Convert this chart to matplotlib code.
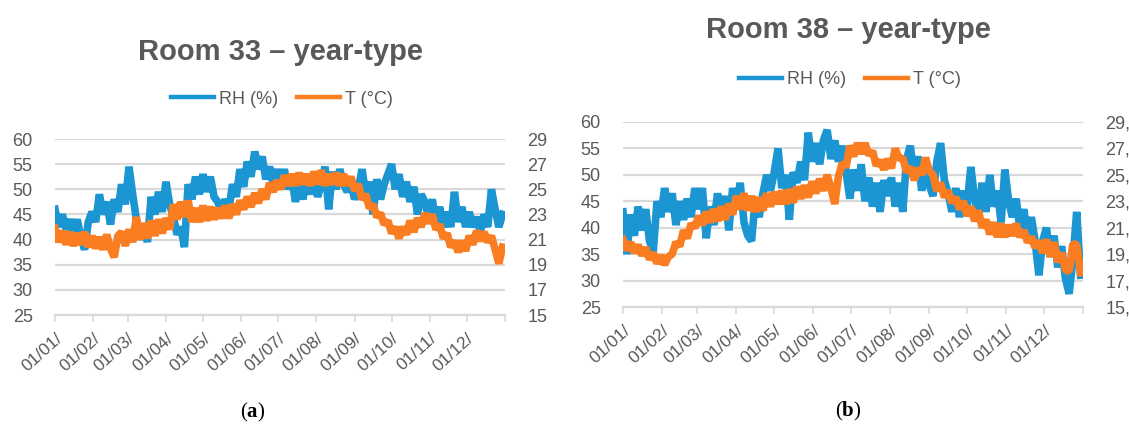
import numpy as np
import matplotlib.pyplot as plt
from matplotlib.lines import Line2D

plt.rcParams['font.family'] = ['Liberation Sans', 'DejaVu Sans']
plt.rcParams['mathtext.fontset'] = 'custom'
plt.rcParams['mathtext.rm'] = 'Liberation Serif'
plt.rcParams['mathtext.bf'] = 'Liberation Serif:bold'

# day of year, one reading every 3 days (values swing between the
# day/night edges of the band seen in the chart)
days = np.arange(0, 366, 3)

month_starts = [0, 31, 59, 90, 120, 151, 181, 212, 243, 273, 304, 334, 365]
month_labels = ['01/01/', '01/02/', '01/03/', '01/04/', '01/05/', '01/06/',
                '01/07/', '01/08/', '01/09/', '01/10/', '01/11/', '01/12/', '']

rh_ticks = [25, 30, 35, 40, 45, 50, 55, 60]
t_ticks = [15, 17, 19, 21, 23, 25, 27, 29]

# Room 33
rh_a = [46, 42.5, 45, 42, 44, 41.5, 44, 40.5, 38, 43.5,
        45.5, 43.5, 49, 45, 47.5, 43, 48, 45.5, 51, 47,
        54.5, 49, 44, 40, 43, 39.5, 48.5, 45, 49.5, 45.5,
        51.5, 47, 44.5, 41, 42.5, 38.5, 51, 48, 52.5, 49,
        53, 49.5, 52.5, 48.5, 47.5, 45.5, 48, 46, 51, 48.5,
        54, 50.5, 55.5, 52.5, 57.5, 54, 56.5, 52, 54.5, 51,
        54, 50.5, 54, 50, 52.5, 47.5, 51.5, 48, 52, 49,
        52.5, 48.5, 51, 54.5, 46, 53.5, 50, 54, 51, 49.5,
        51.5, 48, 50, 54, 49, 51.5, 45, 52, 48, 51,
        53, 55, 50, 53, 48.5, 51.5, 47.5, 50.5, 45, 49,
        47.5, 44.5, 48, 43.5, 46.5, 42.5, 45.5, 42.5, 49.5, 43.5,
        46.5, 42.5, 45.5, 42.5, 44.5, 41.5, 45, 42.5, 50, 46, 42.5, 45]
t_a = [21.9, 20.8, 21.7, 20.6, 21.6, 20.5, 21.5, 20.6, 21.6, 20.4,
       21.3, 20.3, 21.2, 20.2, 21.4, 20.3, 19.6, 21.3, 21.6, 20.5,
       21.8, 20.8, 22.8, 21.0, 22.3, 21.1, 22.5, 21.3, 22.6, 21.5,
       22.7, 21.8, 23.8, 22.6, 24.0, 22.8, 24.1, 22.4, 23.5, 22.4,
       23.7, 22.5, 23.6, 22.6, 23.5, 22.7, 23.7, 22.7, 23.8, 23.0,
       24.1, 23.4, 24.4, 23.6, 24.7, 23.9, 25.0, 24.2, 25.5, 24.8,
       25.7, 25.0, 26.1, 25.3, 26.2, 25.3, 26.3, 25.4, 26.2, 25.3,
       26.4, 25.4, 26.5, 25.3, 26.2, 25.4, 26.3, 25.3, 26.2, 25.3,
       26.0, 24.9, 25.4, 24.2, 24.6, 23.5, 23.8, 22.8, 23.1, 22.2,
       22.5, 21.5, 22.0, 21.1, 22.0, 21.4, 22.5, 21.6, 22.7, 22.0,
       23.1, 22.3, 23.0, 21.8, 22.2, 21.1, 21.5, 20.4, 20.9, 20.0,
       20.9, 20.1, 21.3, 20.6, 21.7, 20.9, 21.6, 20.8, 21.3, 20.2, 19.1, 20.4]

# Room 38
rh_b = [43, 35, 42.5, 38.5, 44, 39.5, 43.5, 37.5, 35.5, 45,
        42, 47.5, 43, 46.5, 40.5, 45, 41.5, 45.5, 42, 47.5,
        43.5, 47.5, 38, 44, 40.5, 46.5, 42, 46, 39.5, 47.5,
        43.5, 48.5, 41, 38.5, 37.5, 45.5, 42, 46.5, 50, 47,
        50.5, 55, 47.5, 50, 41.5, 50.5, 48.5, 52.5, 49, 58,
        52.5, 56, 52, 56.5, 58.5, 53, 56.5, 52.5, 55.5, 50.5,
        45.5, 51, 47, 52, 45, 49.5, 44, 48.5, 43, 49,
        46, 49.5, 44, 48.5, 43, 53, 55.5, 49.5, 53.5, 47,
        51.5, 48, 46, 52.5, 56, 49, 46.5, 43, 47.5, 42,
        47, 44, 51.5, 45.5, 42, 48.5, 43, 50, 44, 47,
        41, 51, 45, 42, 45.5, 39.5, 43.5, 38.5, 42, 37.5,
        31, 37.5, 40, 34.5, 38.5, 32.5, 36.5, 30.5, 27.5, 34, 43, 31]
t_b = [20.1, 19.3, 19.9, 19.1, 19.7, 18.9, 19.5, 18.6, 19.1, 18.3,
       18.9, 18.2, 18.8, 19.0, 19.9, 19.6, 20.8, 20.2, 21.3, 21.0,
       21.9, 21.2, 22.2, 21.4, 22.4, 21.5, 22.6, 21.6, 22.8, 22.0,
       23.4, 22.4, 23.6, 22.3, 23.4, 22.2, 23.3, 22.3, 23.6, 22.6,
       23.7, 22.8, 23.8, 22.8, 23.9, 22.9, 24.1, 23.2, 24.2, 23.3,
       24.5, 23.6, 24.7, 23.8, 25.0, 24.0, 22.8, 24.9, 25.9, 25.6,
       27.2, 26.4, 27.4, 26.6, 27.4, 26.5, 26.8, 25.7, 26.1, 25.4,
       26.2, 25.5, 27.0, 26.2, 26.3, 25.2, 25.6, 24.6, 25.5, 25.0,
       26.3, 25.3, 25.0, 23.8, 24.4, 23.3, 23.8, 22.9, 23.3, 22.4,
       23.0, 21.9, 22.6, 21.5, 22.3, 21.0, 21.6, 20.5, 21.4, 20.3,
       21.3, 20.3, 21.2, 20.4, 21.3, 20.3, 20.8, 19.9, 20.3, 19.5,
       20.0, 19.1, 20.1, 18.8, 19.9, 18.4, 19.1, 17.8, 17.7, 19.8, 19.7, 17.6]

BLUE = '#1c96d3'
ORANGE = '#fa7d22'
GREY = '#595959'
GRID = '#d9d9d9'

W, H = 1129, 438
fig = plt.figure(figsize=(W / 100, H / 100), dpi=100)


def panel(px, title, rh, t, right_fmt, title_xy, leg_xy, caption, cap_xy):
    # px = (left, top, right, bottom) of the plot area in pixels
    l, top, r, b = px
    ax = fig.add_axes([l / W, 1 - b / H, (r - l) / W, (b - top) / H])
    ax2 = ax.twinx()

    ax.plot(days, rh, color=BLUE, lw=5.5, solid_joinstyle='bevel')
    ax2.plot(days, t, color=ORANGE, lw=5.5, solid_joinstyle='bevel')

    ax.set_xlim(0, 365)
    ax.set_ylim(25, 60)
    ax2.set_ylim(15, 29)
    ax.set_yticks(rh_ticks)
    ax2.set_yticks(t_ticks)
    ax2.set_yticklabels([right_fmt.format(v) for v in t_ticks])
    ax.set_xticks(month_starts)
    ax.set_xticklabels(month_labels, rotation=42, ha='right', va='top',
                       rotation_mode='anchor')

    ax.grid(axis='y', color=GRID, lw=1.6)
    ax.set_axisbelow(True)
    for a in (ax, ax2):
        for s in a.spines.values():
            s.set_visible(False)
    ax.spines['bottom'].set_visible(True)
    ax.spines['bottom'].set_color(GRID)
    ax.spines['bottom'].set_linewidth(1.6)

    ax.tick_params(axis='y', length=0, pad=16, labelsize=13, labelcolor=GREY)
    ax2.tick_params(axis='y', length=0, pad=16, labelsize=13, labelcolor=GREY)
    ax.tick_params(axis='x', length=5, width=1.2, color=GRID, pad=6,
                   labelsize=12.5, labelcolor=GREY)

    fig.text(title_xy[0] / W, 1 - title_xy[1] / H, title, ha='center',
             va='center', fontsize=21, fontweight='bold', color=GREY)

    handles = [Line2D([], [], color=BLUE, lw=3.2),
               Line2D([], [], color=ORANGE, lw=3.2)]
    fig.legend(handles, ['RH (%)', 'T (°C)'], loc='center',
               bbox_to_anchor=(leg_xy[0] / W, 1 - leg_xy[1] / H), ncol=2,
               frameon=False, fontsize=13, labelcolor=GREY, handlelength=2.4,
               handletextpad=0.3, columnspacing=1.0)

    fig.text(cap_xy[0] / W, 1 - cap_xy[1] / H, caption, ha='center',
             va='center', fontsize=15, family='Liberation Serif', color='black')


panel((55, 139, 505, 315), 'Room 33 – year-type', rh_a, t_a, '{}',
      (280, 52), (282, 99), r'($\mathbf{a}$)', (253, 412))
panel((623, 122, 1083, 307), 'Room 38 – year-type', rh_b, t_b, '{},',
      (848, 30), (850, 80), r'($\mathbf{b}$)', (848, 411))

fig.savefig('out.png', dpi=100)
